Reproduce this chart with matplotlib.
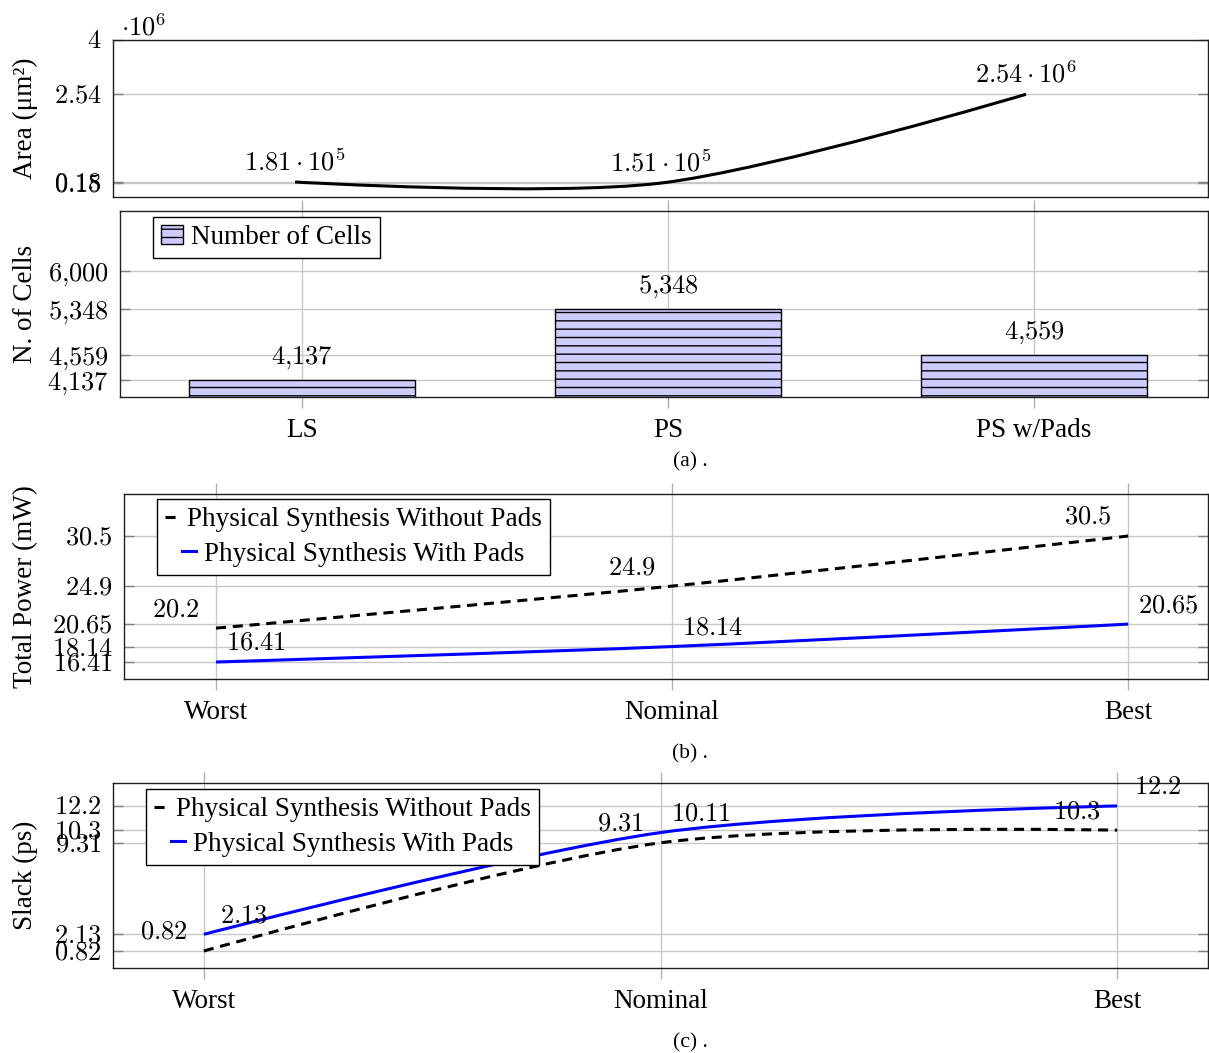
import numpy as np
import matplotlib
matplotlib.use('Agg')
import matplotlib.pyplot as plt
from matplotlib.path import Path
from matplotlib.patches import PathPatch
from matplotlib.lines import Line2D

plt.rcParams['font.family'] = ['Liberation Serif', 'DejaVu Serif']
plt.rcParams['mathtext.fontset'] = 'cm'
plt.rcParams['hatch.linewidth'] = 1.0
plt.rcParams['hatch.color'] = 'black'

# data
designs = ['LS', 'PS', 'PS w/Pads']
area = [1.81e5, 1.51e5, 2.54e6]
area_labels = [r'$1.81 \cdot 10^{5}$', r'$1.51 \cdot 10^{5}$', r'$2.54 \cdot 10^{6}$']
area_ticks = [0.151e6, 0.181e6, 2.54e6, 4e6]
area_ticklabels = ['0.15', '0.18', '2.54', '4']
cells = [4137, 5348, 4559]
cell_ticks = [4137, 4559, 5348, 6000]

corners = ['Worst', 'Nominal', 'Best']
power_no_pads = [20.2, 24.9, 30.5]
power_pads = [16.41, 18.14, 20.65]
power_ticks = [16.41, 18.14, 20.65, 24.9, 30.5]
slack_no_pads = [0.82, 9.31, 10.3]
slack_pads = [2.13, 10.11, 12.2]
slack_ticks = [0.82, 2.13, 9.31, 10.3, 12.2]

FS = 19.5   # text
NS = 19     # numbers (math)
W, H = 1209, 1053
fig = plt.figure(figsize=(W / 100, H / 100), dpi=100)


def num(v):
    return '$' + v + '$'


def place(l, t, r, b):
    ax = fig.add_axes([l / W, 1 - b / H, (r - l) / W, (b - t) / H])
    ax.yaxis.set_label_coords((38 - l) / (r - l), 0.5)
    return ax


def smooth_path(x, y, f=0.1526):
    # bezier path like tikz "smooth"
    pts = np.column_stack([x, y]).astype(float)
    n = len(pts)
    verts = [pts[0]]
    codes = [Path.MOVETO]
    for i in range(n - 1):
        c1 = pts[0] if i == 0 else pts[i] + f * (pts[i + 1] - pts[i - 1])
        c2 = pts[-1] if i == n - 2 else pts[i + 1] - f * (pts[i + 2] - pts[i])
        verts += [c1, c2, pts[i + 1]]
        codes += [Path.CURVE4] * 3
    return Path(verts, codes)


def style(ax, xgrid=True):
    ax.set_axisbelow(True)
    ax.grid(True, axis='y', color='#c8c8c8', lw=1.0)
    if xgrid:
        ax.grid(True, axis='x', color='#c8c8c8', lw=1.0)
        ax.tick_params(axis='x', direction='out', length=8, width=1, color='#b0b0b0',
                       top=True, bottom=True, labelsize=FS, pad=7)
    else:
        ax.tick_params(axis='x', bottom=False, labelbottom=False)
    ax.tick_params(axis='y', direction='in', length=7, width=1, color='#808080',
                   left=True, right=True, labelsize=NS, pad=8)
    for s in ax.spines.values():
        s.set_color('#202020')
        s.set_linewidth(1.0)


def center_legend(leg):
    for col in leg._legend_handle_box.get_children():
        col.align = 'center'


dash = (0, (3.3, 2.2))
off_l = (-29, 13)
off_r = (29, 13)
leg_kw = dict(loc='upper left', borderaxespad=0, fontsize=FS, fancybox=False, framealpha=1,
              edgecolor='black', handletextpad=0.3, borderpad=0.3)

# (a) area
ax1 = place(113, 40, 1208, 197)
style(ax1, xgrid=False)
ax1.add_patch(PathPatch(smooth_path(range(3), area), fill=False, color='black', lw=2.2))
for i, v in enumerate(area):
    ax1.annotate(area_labels[i], (i, v), xytext=(0, 14.5), textcoords='offset points',
                 ha='center', va='center', fontsize=NS)
ax1.set_xlim(-0.498, 2.498)
ax1.set_ylim(-0.2224e6, 4e6)
ax1.set_yticks(area_ticks)
ax1.set_yticklabels([num(t) for t in area_ticklabels])
ax1.set_ylabel('Area (μm²)', fontsize=FS)
ax1.annotate(r'$\cdot 10^{6}$', (0, 1), xycoords='axes fraction', xytext=(6, 0),
             textcoords='offset points', ha='left', va='bottom', fontsize=NS)

# (a) cells
ax2 = place(120, 211, 1208, 397)
style(ax2)
ax2.bar(range(3), cells, width=0.617, color='#ccccff', edgecolor='black', lw=1.0,
        hatch='--', label='Number of Cells')
for i, v in enumerate(cells):
    ax2.annotate(num('{:,}'.format(v).replace(',', '{,}')), (i, v), xytext=(0, 16),
                 textcoords='offset points', ha='center', va='center', fontsize=NS)
ax2.set_xlim(-0.497, 2.475)
ax2.set_ylim(3847, 7017)
ax2.set_yticks(cell_ticks)
ax2.set_yticklabels([num('{:,}'.format(t).replace(',', '{,}')) for t in cell_ticks])
ax2.set_xticks(range(3))
ax2.set_xticklabels(designs)
ax2.set_ylabel('N. of Cells', fontsize=FS)
ax2.legend(bbox_to_anchor=(0.0303, 0.968), handlelength=0.8, **leg_kw)
fig.text(690 / W, 1 - 462 / H, '(a) .', ha='center', va='center', fontsize=15.5)

# (b) power
handles = [Line2D([], [], color='black', lw=2.2, ls=dash),
           Line2D([], [], color='blue', lw=2.2)]
names = ['Physical Synthesis Without Pads', 'Physical Synthesis With Pads']

ax3 = place(124, 494, 1208, 679)
style(ax3)
ax3.add_patch(PathPatch(smooth_path(range(3), power_no_pads), fill=False, color='black',
                        lw=2.2, ls=dash))
ax3.add_patch(PathPatch(smooth_path(range(3), power_pads), fill=False, color='blue', lw=2.2))
for i in range(3):
    ax3.annotate(num('{:g}'.format(power_no_pads[i])), (i, power_no_pads[i]), xytext=off_l,
                 textcoords='offset points', ha='center', va='center', fontsize=NS)
    ax3.annotate(num('{:g}'.format(power_pads[i])), (i, power_pads[i]), xytext=off_r,
                 textcoords='offset points', ha='center', va='center', fontsize=NS)
ax3.set_xlim(-0.2018, 2.175)
ax3.set_ylim(14.51, 35.2)
ax3.set_yticks(power_ticks)
ax3.set_yticklabels([num('{:g}'.format(t)) for t in power_ticks])
ax3.set_xticks(range(3))
ax3.set_xticklabels(corners)
ax3.set_ylabel('Total Power (mW)', fontsize=FS)
leg = ax3.legend(handles, names, bbox_to_anchor=(0.0304, 0.973), handlelength=0.5,
                 labelspacing=0.35, **leg_kw)
center_legend(leg)
fig.text(690 / W, 1 - 754 / H, '(b) .', ha='center', va='center', fontsize=15.5)

# (c) slack
ax4 = place(113, 783, 1208, 968)
style(ax4)
ax4.add_patch(PathPatch(smooth_path(range(3), slack_no_pads), fill=False, color='black',
                        lw=2.2, ls=dash))
ax4.add_patch(PathPatch(smooth_path(range(3), slack_pads), fill=False, color='blue', lw=2.2))
for i in range(3):
    ax4.annotate(num('{:g}'.format(slack_no_pads[i])), (i, slack_no_pads[i]), xytext=off_l,
                 textcoords='offset points', ha='center', va='center', fontsize=NS)
    ax4.annotate(num('{:g}'.format(slack_pads[i])), (i, slack_pads[i]), xytext=off_r,
                 textcoords='offset points', ha='center', va='center', fontsize=NS)
ax4.set_xlim(-0.199, 2.199)
ax4.set_ylim(-0.514, 14.0)
ax4.set_yticks(slack_ticks)
ax4.set_yticklabels([num('{:g}'.format(t)) for t in slack_ticks])
ax4.set_xticks(range(3))
ax4.set_xticklabels(corners)
ax4.set_ylabel('Slack (ps)', fontsize=FS)
leg = ax4.legend(handles, names, bbox_to_anchor=(0.0301, 0.968), handlelength=0.5,
                 labelspacing=0.35, **leg_kw)
center_legend(leg)
fig.text(690 / W, 1 - 1043 / H, '(c) .', ha='center', va='center', fontsize=15.5)

fig.savefig('out.png', dpi=100)
